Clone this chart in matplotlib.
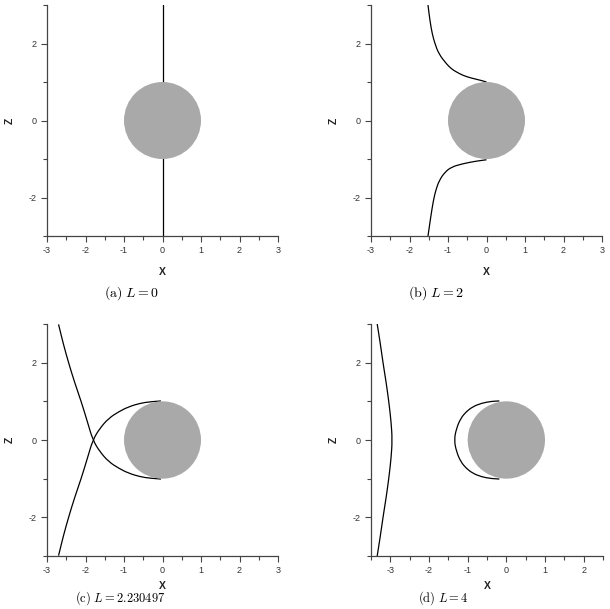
import numpy as np
import matplotlib
matplotlib.use("Agg")
import matplotlib.pyplot as plt
from matplotlib.patches import Circle, PathPatch
from matplotlib.path import Path
from matplotlib.ticker import MultipleLocator

plt.rcParams['font.family'] = ['Liberation Sans', 'DejaVu Sans']
plt.rcParams['mathtext.fontset'] = 'cm'

# Stromlinien (x, z)
# (a) L = 0
a_x = [0.0, 0.0]
a_z = [-3.0, 3.0]

# (b) L = 2, oberer und unterer Ast
b_top_x = [-1.52, -1.47, -1.41, -1.34, -1.24, -1.04, -0.91, -0.78, -0.61, -0.39, -0.13, 0.0]
b_top_z = [3.0, 2.60, 2.25, 2.0, 1.73, 1.47, 1.34, 1.26, 1.17, 1.10, 1.04, 1.00]
b_bot_x = [0.0, -0.30, -0.65, -0.91, -1.08, -1.23, -1.32, -1.38, -1.45, -1.52]
b_bot_z = [-1.02, -1.06, -1.13, -1.21, -1.34, -1.56, -1.82, -2.08, -2.51, -3.0]

# (c) Separatrix, zweiter Ast ist gespiegelt (z -> -z)
c_x = [-2.70, -2.57, -2.44, -2.29, -2.11, -1.95, -1.81, -1.63, -1.40, -1.14, -0.88, -0.58, -0.32, -0.04]
c_z = [2.99, 2.46, 2.0, 1.51, 0.99, 0.47, 0.0, -0.30, -0.56, -0.73, -0.86, -0.95, -0.99, -1.01]

# (d) L = 4, äußere Linie und Schleife vor der Kugel
d_out_x = [-3.34, -3.26, -3.19, -3.11, -3.04, -2.98, -2.95, -2.98, -3.04, -3.11, -3.19, -3.26, -3.34]
d_out_z = [3.0, 2.5, 2.0, 1.5, 1.0, 0.47, 0.0, -0.47, -1.0, -1.5, -2.0, -2.5, -3.0]
d_loop_x = [-0.18, -0.39, -0.65, -0.87, -1.04, -1.18, -1.29, -1.35, -1.29, -1.18, -1.04, -0.87, -0.65, -0.39, -0.18]
d_loop_z = [1.01, 1.0, 0.95, 0.86, 0.73, 0.56, 0.30, 0.0, -0.30, -0.56, -0.73, -0.86, -0.95, -1.0, -1.01]

captions = [r"$\mathrm{(a)}\ L = 0$", r"$\mathrm{(b)}\ L = 2$",
            r"$\mathrm{(c)}\ L = 2.230497$", r"$\mathrm{(d)}\ L = 4$"]
xlims = [(-3, 3), (-3, 3), (-3, 3), (-3.5, 2.5)]


def smooth_line(ax, xs, zs):
    pts = list(zip(xs, zs))
    if len(pts) < 3:
        ax.plot(xs, zs, color='black', lw=0.9, zorder=2)
        return
    verts = [pts[0]]
    codes = [Path.MOVETO]
    mid = ((pts[0][0] + pts[1][0]) / 2, (pts[0][1] + pts[1][1]) / 2)
    verts.append(mid)
    codes.append(Path.LINETO)
    for i in range(1, len(pts) - 1):
        nxt = pts[i + 1] if i == len(pts) - 2 else \
            ((pts[i][0] + pts[i + 1][0]) / 2, (pts[i][1] + pts[i + 1][1]) / 2)
        verts += [pts[i], nxt]
        codes += [Path.CURVE3, Path.CURVE3]
    ax.add_patch(PathPatch(Path(verts, codes), facecolor='none',
                           edgecolor='black', lw=0.9, zorder=2))


W, H = 610, 609
fig = plt.figure(figsize=(W / 100, H / 100), dpi=100)

# Achsen in Pixeln: links, oben, rechts, unten
boxes = [(47, 5, 278, 236), (371, 5, 602, 236),
         (47, 324, 278, 556), (371, 324, 603, 556)]
axes = []
for (l, t, r, b) in boxes:
    axes.append(fig.add_axes([l / W, 1 - b / H, (r - l) / W, (b - t) / H]))

smooth_line(axes[0], a_x, a_z)
smooth_line(axes[1], b_top_x, b_top_z)
smooth_line(axes[1], b_bot_x, b_bot_z)
smooth_line(axes[2], c_x, c_z)
smooth_line(axes[2], c_x, [-z for z in c_z])
smooth_line(axes[3], d_out_x, d_out_z)
smooth_line(axes[3], d_loop_x, d_loop_z)

for k, (ax, xl) in enumerate(zip(axes, xlims)):
    ax.add_patch(Circle((0, 0), 1.0, facecolor='#a9a9a9', edgecolor='none', zorder=3))
    ax.set_xlim(*xl)
    ax.set_ylim(-3, 3)
    ax.spines['top'].set_visible(False)
    ax.spines['right'].set_visible(False)
    for s in ('left', 'bottom'):
        ax.spines[s].set_color('#444444')
        ax.spines[s].set_linewidth(0.9)
    ax.xaxis.set_major_locator(MultipleLocator(1))
    ax.xaxis.set_minor_locator(MultipleLocator(0.5))
    ax.yaxis.set_major_locator(MultipleLocator(2))
    ax.yaxis.set_minor_locator(MultipleLocator(1))
    ax.tick_params(which='major', direction='out', length=4.5, width=0.8,
                   color='#444444', labelsize=6.5, labelcolor='#333333', pad=3)
    ax.tick_params(which='minor', direction='out', length=3, width=0.8, color='#444444')
    ax.set_xticklabels([f"{v:g}" for v in ax.get_xticks()])
    ax.set_yticklabels([f"{v:g}" for v in ax.get_yticks()])
    ax.set_xlim(*xl)
    ax.set_ylim(-3, 3)
    ax.set_xlabel('X', fontsize=7.5, fontweight='bold',
                  labelpad=8 if k < 2 else 4, color='#222222')
    ax.set_ylabel('Z', fontsize=7.5, fontweight='bold', labelpad=10, color='#222222')

# Bildunterschriften (unten etwas angehoben, damit sie ganz ins Bild passen)
cap_pos = [(104, 293.5), (408, 293.5), (75, 598.5), (418, 598.5)]
cap_size = [10, 10, 9, 9]
for (cx, cy), txt, fs in zip(cap_pos, captions, cap_size):
    fig.text(cx / W, 1 - cy / H, txt, fontsize=fs, ha='left', va='center')

fig.savefig('out.png', dpi=100)
